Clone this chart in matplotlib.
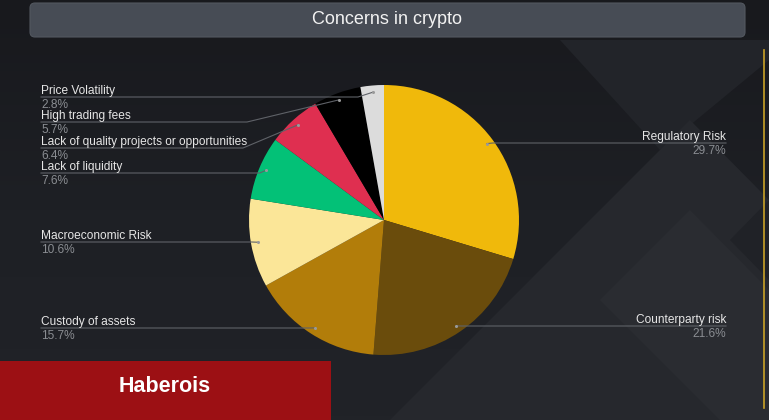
import numpy as np
import matplotlib
matplotlib.use("Agg")
import matplotlib.pyplot as plt
from matplotlib.patches import FancyBboxPatch, Polygon, Rectangle
from matplotlib.colors import LinearSegmentedColormap

# data
labels = ["Regulatory Risk", "Counterparty risk", "Custody of assets", "Macroeconomic Risk",
          "Lack of liquidity", "Lack of quality projects or opportunities",
          "High trading fees", "Price Volatility"]
values = [29.7, 21.6, 15.7, 10.6, 7.6, 6.4, 5.7, 2.8]
colors = ["#F0B90B", "#6A4C0C", "#B27D0A", "#FBE698", "#03C177", "#DF2F50", "#000000", "#DCDCDC"]

# label layout (pixels): side, y of leader line, elbow x (None = straight)
sides = ["right", "right", "left", "left", "left", "left", "left", "left"]
line_y = [143, 326, 328, 242, 173, 148, 122, 97]
elbow_x = [None, None, None, None, None, 243, 247, 358]

W, H = 769, 420
cx, cy, R = 384, 220, 135

plt.rcParams['font.family'] = ['Liberation Sans', 'DejaVu Sans']

fig = plt.figure(figsize=(W / 100, H / 100), dpi=100)
fig.patch.set_facecolor("#1e2025")

bg = fig.add_axes([0, 0, 1, 1], zorder=0)
bg.set_xlim(0, W)
bg.set_ylim(H, 0)
bg.axis("off")

# soft vertical gradient for the base
grad = LinearSegmentedColormap.from_list("bgr", ["#18191d", "#1e2025", "#212328"])
bg.imshow(np.linspace(0, 1, 100).reshape(-1, 1), cmap=grad, aspect="auto",
          extent=(0, W, H, 0), zorder=0)

# background pattern (subtle diamonds on the right)
bg.add_patch(Polygon([(560, 40), (769, 40), (769, 60), (660, 150)], closed=True, fc="#222429", ec="none"))
bg.add_patch(Polygon([(390, 420), (690, 120), (769, 200), (769, 420)], closed=True, fc="#26282d", ec="none"))
bg.add_patch(Polygon([(600, 300), (690, 210), (769, 290), (769, 420), (720, 420)], closed=True,
                     fc="#2a2c31", ec="none"))
bg.add_patch(Polygon([(769, 200), (730, 240), (769, 280)], closed=True, fc="#202227", ec="none"))

# title bar
bg.add_patch(FancyBboxPatch((30, 3), 715, 34, boxstyle="round,pad=0,rounding_size=5",
                            fc="#474c55", ec="#52575f", lw=0.8))
bg.text(387, 20, "Concerns in crypto", ha="center", va="center", color="#f2f2f2", fontsize=13)

# gold side line
bg.plot([764, 764], [50, 408], color="#c9a227", lw=1.2)

# red footer box
bg.add_patch(Rectangle((0, 361), 331, 60, fc="#9c1014", ec="none"))
bg.text(165, 386, "Haberois", ha="center", va="center", color="white",
        fontsize=15.5, fontweight="bold")

# pie
pax = fig.add_axes([(cx - R) / W, (H - cy - R) / H, 2 * R / W, 2 * R / H], zorder=1)
wedges, _ = pax.pie(values, colors=colors, startangle=90, counterclock=False,
                    wedgeprops=dict(linewidth=0))
pax.set_xlim(-1, 1)
pax.set_ylim(-1, 1)
pax.patch.set_alpha(0)

# overlay for leader lines and labels
ov = fig.add_axes([0, 0, 1, 1], zorder=2)
ov.set_xlim(0, W)
ov.set_ylim(H, 0)
ov.axis("off")
ov.patch.set_alpha(0)

for w, lab, v, side, ly, ex in zip(wedges, labels, values, sides, line_y, elbow_x):
    ang = np.deg2rad((w.theta1 + w.theta2) / 2)
    dx = cx + 0.95 * R * np.cos(ang)
    dy = cy - 0.95 * R * np.sin(ang)
    pct = f"{v:.1f}%"
    if side == "right":
        ov.plot([dx, dx + 6, 726], [dy, ly, ly], color="#5f6268", lw=0.8)
        ov.text(726, ly - 3, lab, ha="right", va="baseline", color="#e6e6e6", fontsize=8.6)
        ov.text(726, ly + 2, pct, ha="right", va="top", color="#8a8d92", fontsize=8.6)
    else:
        e = ex if ex is not None else dx - 6
        ov.plot([41, e, dx], [ly, ly, dy], color="#5f6268", lw=0.8)
        ov.text(41, ly - 3, lab, ha="left", va="baseline", color="#e6e6e6", fontsize=8.6)
        ov.text(41, ly + 2, pct, ha="left", va="top", color="#8a8d92", fontsize=8.6)
    ov.plot([dx], [dy], "o", ms=2.2, color="#9a9a9a", mec="none")

fig.savefig("out.png", dpi=100, facecolor=fig.get_facecolor())
